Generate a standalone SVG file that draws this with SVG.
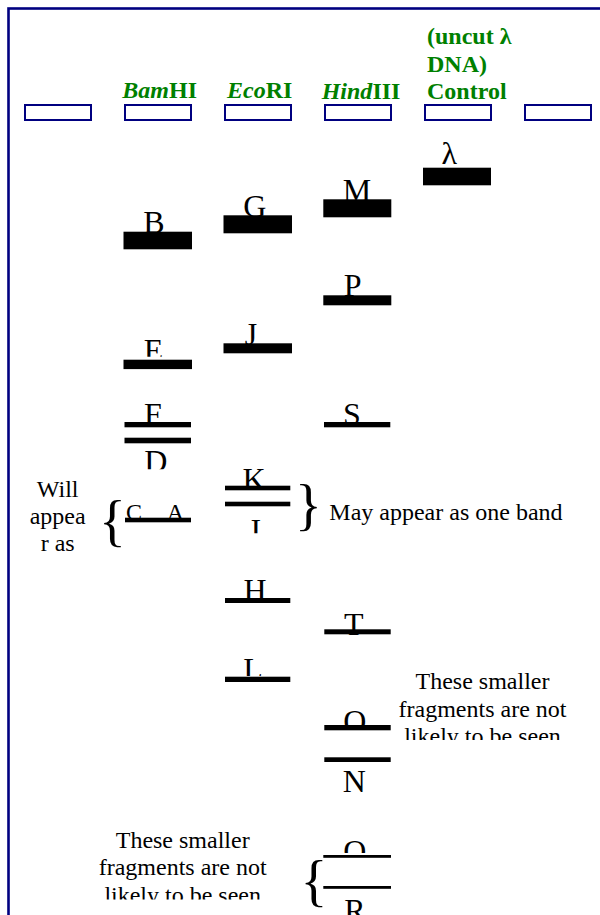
<svg xmlns="http://www.w3.org/2000/svg" width="600" height="915" viewBox="0 0 600 915">
<style>
.frame{fill:none;stroke:#000080;stroke-width:2.6}
.well{fill:#fff;stroke:#000080;stroke-width:2}
.band{fill:#000}
.lbl{font-family:"Liberation Serif","Times New Roman",serif;font-size:32px;fill:#000;text-anchor:middle}
.hdr{font-family:"Liberation Serif","Times New Roman",serif;font-size:24px;font-weight:bold;fill:#008000}
.note{font-family:"Liberation Serif","Times New Roman",serif;font-size:24px;fill:#000}
.mid{text-anchor:middle}
.brace{font-family:"Liberation Serif","Times New Roman",serif;font-size:56px;fill:#000}
</style>
<defs>
<clipPath id="cE" clipPathUnits="userSpaceOnUse"><rect x="120" y="320" width="70" height="36.7"/></clipPath>
<clipPath id="cD" clipPathUnits="userSpaceOnUse"><rect x="120" y="440" width="70" height="29.3"/></clipPath>
<clipPath id="cI" clipPathUnits="userSpaceOnUse"><rect x="220" y="508" width="70" height="25.3"/></clipPath>
<clipPath id="cL" clipPathUnits="userSpaceOnUse"><rect x="220" y="640" width="70" height="36"/></clipPath>
<clipPath id="cQ" clipPathUnits="userSpaceOnUse"><rect x="320" y="690" width="70" height="40"/></clipPath>
<clipPath id="cO" clipPathUnits="userSpaceOnUse"><rect x="320" y="820" width="70" height="33"/></clipPath>
<clipPath id="cTR" clipPathUnits="userSpaceOnUse"><rect x="390" y="660" width="200" height="80"/></clipPath>
<clipPath id="cTL" clipPathUnits="userSpaceOnUse"><rect x="80" y="820" width="200" height="79.5"/></clipPath>
</defs>

<rect class="frame" x="8.5" y="8.5" width="600" height="915"/>

<g id="wells">
<rect class="well" x="25" y="105" width="66" height="15"/>
<rect class="well" x="125" y="105" width="66" height="15"/>
<rect class="well" x="225" y="105" width="66" height="15"/>
<rect class="well" x="325" y="105" width="66" height="15"/>
<rect class="well" x="425" y="105" width="66" height="15"/>
<rect class="well" x="525" y="105" width="66" height="15"/>
</g>

<g id="headers">
<text class="hdr" x="122.3" y="98.3"><tspan font-style="italic">Bam</tspan>HI</text>
<text class="hdr" x="227" y="98.3"><tspan font-style="italic">Eco</tspan>RI</text>
<text class="hdr" x="321.7" y="98.5"><tspan font-style="italic">Hind</tspan>III</text>
<text class="hdr" x="427" y="43.8">(uncut λ</text>
<text class="hdr" x="427" y="71.5">DNA)</text>
<text class="hdr" x="427" y="99.2">Control</text>
</g>

<g id="lane-bamhi">
<rect class="band" x="123.5" y="231.7" width="68.5" height="17.6"/>
<text class="lbl" x="154" y="233">B</text>
<rect class="band" x="123.5" y="359.7" width="68.5" height="9.4"/>
<text class="lbl" x="153.5" y="360.5" clip-path="url(#cE)">E</text>
<rect class="band" x="124.5" y="422" width="66.5" height="5.3"/>
<text class="lbl" x="153" y="424.5">F</text>
<rect class="band" x="124.5" y="437.7" width="66.5" height="5.6"/>
<text class="lbl" x="155.7" y="472" clip-path="url(#cD)">D</text>
<rect class="band" x="125" y="517.7" width="66" height="4.6"/>
<text class="note" y="519.5" text-anchor="middle" font-size="26"><tspan x="134">C</tspan><tspan x="175.5">A</tspan></text>
</g>

<g id="lane-ecori">
<rect class="band" x="223.5" y="215.3" width="68.5" height="18"/>
<text class="lbl" x="254.8" y="216.9">G</text>
<rect class="band" x="223.5" y="343.3" width="68.5" height="10"/>
<text class="lbl" x="251" y="344.5">J</text>
<rect class="band" x="225" y="485.7" width="65.3" height="4.6"/>
<text class="lbl" x="254" y="489.5">K</text>
<rect class="band" x="225" y="501.7" width="65.3" height="4.6"/>
<text class="lbl" x="255.8" y="541" clip-path="url(#cI)">I</text>
<rect class="band" x="225" y="598" width="65.3" height="5"/>
<text class="lbl" x="255" y="601">H</text>
<rect class="band" x="225" y="676.7" width="65.3" height="5.3"/>
<text class="lbl" x="253" y="679.5" clip-path="url(#cL)">L</text>
</g>

<g id="lane-hindiii">
<rect class="band" x="323.3" y="199.3" width="68" height="18"/>
<text class="lbl" x="357" y="201.2">M</text>
<rect class="band" x="323.3" y="295.3" width="68" height="10"/>
<text class="lbl" x="352.7" y="296.2">P</text>
<rect class="band" x="324" y="422" width="66.3" height="5.3"/>
<text class="lbl" x="352" y="424.5">S</text>
<rect class="band" x="324.3" y="629.3" width="66.4" height="5"/>
<text class="lbl" x="353.8" y="634.5">T</text>
<rect class="band" x="324.3" y="725" width="66.4" height="5.3"/>
<text class="lbl" x="354.8" y="731.5" clip-path="url(#cQ)">Q</text>
<rect class="band" x="324.3" y="757.3" width="66.4" height="4.7"/>
<text class="lbl" x="354.2" y="791.7" font-size="28">N</text>
<rect class="band" x="323.3" y="855" width="67.7" height="2.8"/>
<text class="lbl" x="354.7" y="861.5" clip-path="url(#cO)">O</text>
<rect class="band" x="323.3" y="886" width="67.7" height="2.8"/>
<text class="lbl" x="355" y="920.5">R</text>
</g>

<g id="lane-control">
<rect class="band" x="423" y="167.7" width="68" height="17.6"/>
<text class="lbl" x="449.2" y="163.5" font-size="18">λ</text>
</g>

<g id="notes">
<text class="note mid" x="57.7"><tspan x="57.7" y="496.7">Will</tspan><tspan x="57.7" y="523.5">appea</tspan><tspan x="57.7" y="551">r as</tspan></text>
<text class="brace" x="99" y="540">{</text>
<text class="brace" x="295" y="524">}</text>
<text class="note" x="329.3" y="520">May appear as one band</text>
<text class="note mid" clip-path="url(#cTR)"><tspan x="482.5" y="689.3">These smaller</tspan><tspan x="482.5" y="716.7">fragments are not</tspan><tspan x="482.5" y="744.2">likely to be seen</tspan></text>
<text class="note mid" clip-path="url(#cTL)"><tspan x="182.7" y="848.3">These smaller</tspan><tspan x="182.7" y="875">fragments are not</tspan><tspan x="182.7" y="902.5">likely to be seen</tspan></text>
<text class="brace" x="300.5" y="900">{</text>
</g>
</svg>
